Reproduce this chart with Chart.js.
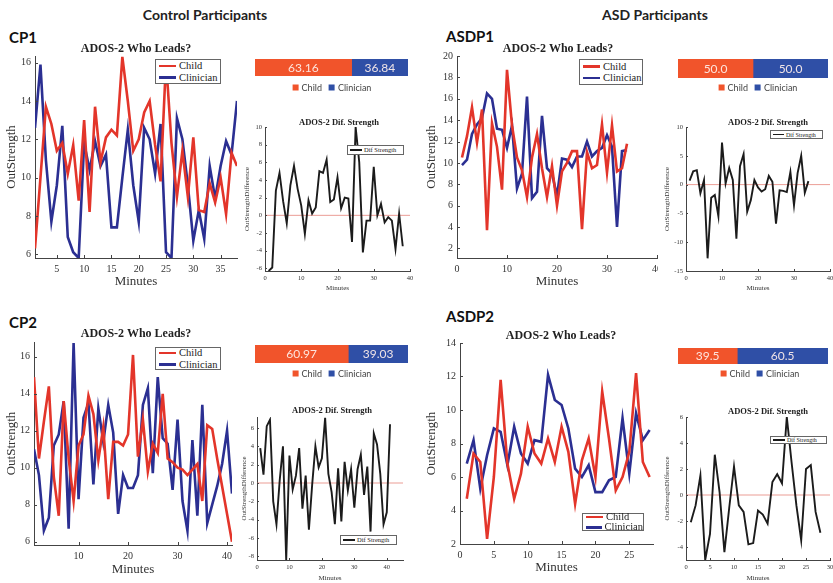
<!DOCTYPE html>
<html>
<head>
<meta charset="utf-8">
<script src="https://cdn.jsdelivr.net/npm/chart.js@4.4.1/dist/chart.umd.min.js"></script>
<style>
  html, body { margin: 0; padding: 0; background: #fff; }
  #page { position: relative; width: 833px; height: 583px; overflow: hidden; background: #fff; }
  #page canvas { position: absolute; }
  .hdr { position: absolute; font-family: Lato, 'Open Sans', sans-serif; font-weight: 700; font-size: 14px; color: #222; white-space: nowrap; transform: translate(-50%, -50%); }
  .pid { position: absolute; font-family: Lato, 'Open Sans', sans-serif; font-weight: 700; font-size: 15px; color: #111; white-space: nowrap; transform: translateY(-50%); }
  .ttl { position: absolute; font-family: 'Liberation Serif', 'DejaVu Serif', 'Times New Roman', serif; font-weight: 700; color: #222; white-space: nowrap; transform: translate(-50%, -50%); }
  .lgd { position: absolute; box-sizing: border-box; border: 1px solid #666; background: #fff; font-family: 'Liberation Serif', 'DejaVu Serif', serif; color: #222; display: flex; flex-direction: column; justify-content: center; }
  .lgd .row { display: flex; align-items: center; white-space: nowrap; }
  .lgd .smp { display: inline-block; }
  .blg { position: absolute; font-family: Lato, 'Open Sans', sans-serif; font-size: 9px; color: #444; white-space: nowrap; display: flex; align-items: center; transform: translate(-50%, -50%); }
  .blg .sq { display: inline-block; width: 6px; height: 6px; margin-right: 3px; }
</style>
</head>
<body>
<div id="page"></div>
<script>
// ---- OutStrength per minute ----
const cp1Child = [6.3, 10.0, 13.7, 12.8, 11.4, 11.8, 10.2, 11.7, 8.8, 13.0, 8.2, 13.7, 10.8, 12.1, 12.5, 12.2, 16.3, 14.0, 11.4, 12.0, 13.4, 14.0, 11.7, 9.8, 16.1, 11.8, 9.0, 11.4, 9.0, 12.1, 8.3, 8.2, 9.7, 8.7, 10.0, 8.1, 11.3, 10.6];
const cp1Clinician = [12.6, 15.9, 10.9, 7.7, 9.6, 12.7, 6.9, 6.1, 5.8, 11.8, 10.4, 11.9, 10.6, 11.2, 7.4, 7.4, 10.0, 12.5, 9.6, 7.7, 12.6, 12.0, 10.2, 12.8, 6.1, 5.8, 13.1, 12.0, 9.6, 6.7, 8.3, 6.8, 10.6, 8.9, 10.6, 11.9, 11.2, 14.0];
const cp1Diff = [-6.3, -5.9, 2.8, 4.8, 1.6, -0.9, 3.4, 5.6, 3.0, 1.1, -2.1, 1.7, 0.2, 0.9, 5.0, 4.8, 6.3, 1.5, 1.8, 4.3, 0.8, 2.0, 1.9, -3.0, 10.0, 6.0, -4.2, -0.6, -0.6, 5.5, 0.0, 1.3, -0.8, -0.2, -0.6, -3.8, 0.2, -3.5];
const cp1Share = [63.16, 36.84];

const cp2Child = [14.9, 10.5, 12.5, 14.4, 9.5, 7.4, 13.6, 10.5, 8.2, 11.2, 11.8, 13.9, 12.9, 10.4, 12.2, 8.3, 11.4, 11.4, 11.2, 11.8, 16.1, 10.6, 12.6, 9.8, 11.3, 10.8, 14.0, 10.5, 10.3, 10.0, 9.9, 9.6, 9.9, 10.2, 8.2, 12.3, 12.1, 10.5, 9.0, 7.5, 6.0];
const cp2Clinician = [11.0, 9.6, 6.6, 7.3, 11.2, 11.8, 13.6, 6.7, 16.75, 8.3, 12.7, 13.5, 9.1, 13.2, 11.4, 13.4, 11.9, 7.5, 9.6, 8.9, 8.9, 9.6, 13.4, 14.3, 9.7, 14.9, 11.6, 11.3, 8.8, 12.6, 8.2, 6.6, 11.5, 7.4, 13.4, 7.0, 8.0, 9.0, 10.2, 12.0, 8.6];
const cp2Diff = [3.8, 0.9, 6.2, 6.9, -2.0, -4.5, 0.3, 4.0, -8.4, 3.0, -0.7, 0.8, 3.8, -2.8, 0.8, -5.1, -0.2, 4.0, 1.7, 2.7, 7.1, 1.0, -1.0, -4.5, 1.6, -4.2, 2.3, -0.8, 1.5, -2.7, 1.5, 3.1, -1.3, 1.8, -5.3, 5.4, 4.2, 1.0, -4.5, -3.2, 6.4];
const cp2Share = [60.97, 39.03];

const asdp1Child = [10.5, 12.5, 15.2, 11.9, 15.0, 3.7, 13.7, 11.5, 7.5, 18.7, 13.5, 10.5, 9.3, 6.8, 10.5, 12.7, 9.5, 6.8, 9.7, 6.0, 9.2, 10.0, 11.1, 11.1, 3.8, 11.0, 9.5, 9.8, 13.6, 9.1, 13.5, 9.2, 9.5, 11.8];
const asdp1Clinician = [9.8, 10.3, 12.7, 13.6, 14.2, 16.5, 16.0, 13.2, 13.1, 11.4, 13.5, 7.6, 9.0, 16.2, 6.7, 7.3, 14.4, 9.5, 9.0, 6.9, 10.4, 10.3, 9.6, 10.6, 10.6, 12.0, 10.6, 11.1, 11.4, 12.6, 11.5, 4.0, 11.1, 11.2];
const asdp1Diff = [0.7, 2.3, 2.5, -1.5, 0.8, -12.8, -2.3, -1.8, -5.5, 7.3, 0.2, 2.9, 0.8, -9.4, 3.2, 5.3, -4.7, -2.7, 0.8, -0.5, -1.2, -0.8, 1.5, 0.5, -6.8, -1.0, -1.1, -1.3, 2.2, -3.6, 2.0, 5.0, -1.4, 0.6];
const asdp1Share = [50.0, 50.0];

const asdp2Child = [4.7, 7.4, 6.9, 2.3, 6.0, 11.8, 6.8, 4.7, 6.2, 9.0, 7.4, 6.8, 8.3, 6.9, 9.0, 7.5, 4.4, 7.0, 8.3, 6.0, 11.1, 8.3, 5.2, 6.0, 7.5, 12.2, 6.9, 6.0];
const asdp2Clinician = [6.8, 8.2, 5.3, 7.3, 8.9, 8.7, 6.7, 9.0, 7.4, 6.8, 8.2, 8.1, 12.1, 10.6, 10.3, 8.9, 6.5, 6.0, 6.7, 5.1, 5.1, 5.8, 6.0, 9.5, 6.2, 9.8, 8.2, 8.8];
const asdp2Diff = [-2.1, -0.8, 1.5, -5.0, -3.0, 3.1, 0.2, -4.4, -1.0, 2.2, -0.8, -1.3, -3.8, -3.7, -1.2, -1.5, -2.2, 1.0, 1.6, 0.9, 6.0, 2.5, -0.8, -3.5, 2.0, 2.3, -1.3, -2.9];
const asdp2Share = [39.5, 60.5];

// ---- tick values ----
const cp1MainXTicks = [5, 10, 15, 20, 25, 30, 35];
const cp1MainYTicks = [6, 8, 10, 12, 14, 16];
const cp2MainXTicks = [10, 20, 30, 40];
const cp2MainYTicks = [6, 8, 10, 12, 14, 16];
const asdp1MainXTicks = [0, 10, 20, 30, 40];
const asdp1MainYTicks = [2, 4, 6, 8, 10, 12, 14, 16, 18, 20];
const asdp2MainXTicks = [0, 5, 10, 15, 20, 25];
const asdp2MainYTicks = [2, 4, 6, 8, 10, 12, 14];
const diffXTicks40 = [0, 10, 20, 30, 40];
const diffXTicks30 = [0, 5, 10, 15, 20, 25, 30];
const cp1DiffYTicks = [-6, -4, -2, 0, 2, 4, 6, 8, 10];
const cp2DiffYTicks = [-8, -6, -4, -2, 0, 2, 4, 6];
const asdp1DiffYTicks = [-15, -10, -5, 0, 5, 10];
const asdp2DiffYTicks = [-4, -2, 0, 2, 4, 6];

const seriesNames = ['Child', 'Clinician'];

// ---- styling ----
const LINE_RED = '#E3352A';
const LINE_BLUE = '#2B2F92';
const BAR_RED = '#F1542B';
const BAR_BLUE = '#2F4FA6';
const AXIS = '#444';
const SERIF = "'Liberation Serif', 'DejaVu Serif', serif";

const page = document.getElementById('page');

function addCanvas(box) {
  const c = document.createElement('canvas');
  c.width = box[2]; c.height = box[3];
  c.style.left = box[0] + 'px'; c.style.top = box[1] + 'px';
  c.style.width = box[2] + 'px'; c.style.height = box[3] + 'px';
  page.appendChild(c);
  return c;
}

function addText(cls, text, x, y, extra) {
  const d = document.createElement('div');
  d.className = cls; d.textContent = text;
  d.style.left = x + 'px'; d.style.top = y + 'px';
  if (extra) Object.assign(d.style, extra);
  page.appendChild(d);
  return d;
}

// small inward tick marks on the left and bottom axes
const innerTicks = {
  id: 'innerTicks',
  afterDraw(chart, args, opts) {
    const { ctx, chartArea: a, scales } = chart;
    const len = opts.length || 3;
    ctx.save();
    ctx.strokeStyle = AXIS; ctx.lineWidth = 1;
    ctx.beginPath();
    scales.x.ticks.forEach(t => {
      const px = Math.round(scales.x.getPixelForValue(t.value)) + 0.5;
      ctx.moveTo(px, a.bottom); ctx.lineTo(px, a.bottom - len);
    });
    scales.y.ticks.forEach(t => {
      const py = Math.round(scales.y.getPixelForValue(t.value)) + 0.5;
      ctx.moveTo(a.left, py); ctx.lineTo(a.left + len, py);
    });
    ctx.stroke();
    ctx.restore();
  }
};

// faint red reference line at zero for the difference plots
const zeroLine = {
  id: 'zeroLine',
  beforeDatasetsDraw(chart, args, opts) {
    if (!opts.show) return;
    const { ctx, chartArea: a, scales } = chart;
    const y = scales.y.getPixelForValue(0);
    ctx.save();
    ctx.strokeStyle = 'rgba(226, 110, 100, 0.85)';
    ctx.lineWidth = 0.8;
    ctx.beginPath(); ctx.moveTo(a.left, y); ctx.lineTo(a.right, y); ctx.stroke();
    ctx.restore();
  }
};

function toPoints(values) {
  return values.map((v, i) => ({ x: i + 1, y: v }));
}

function lineChart(box, area, datasets, xs, ys, st) {
  const canvas = addCanvas(box);
  const [cx, cy, cw, ch] = box;
  const [l, t, r, b] = area;
  const yW = l - cx;
  const xH = cy + ch - b;
  const tickFont = { family: SERIF, size: st.tick };
  const titleFont = { family: SERIF, size: st.title };
  return new Chart(canvas, {
    type: 'line',
    data: { datasets },
    options: {
      responsive: false,
      animation: false,
      devicePixelRatio: 1,
      layout: { padding: { left: 0, top: t - cy, right: cx + cw - r, bottom: 0 } },
      elements: { point: { radius: 0 }, line: { tension: 0 } },
      plugins: {
        legend: { display: false },
        tooltip: { enabled: false },
        innerTicks: { length: st.tickLen },
        zeroLine: { show: !!st.zero }
      },
      scales: {
        x: {
          type: 'linear', min: xs.min, max: xs.max,
          afterBuildTicks: s => { s.ticks = xs.ticks.map(v => ({ value: v })); },
          afterFit: s => { s.height = xH; s.paddingLeft = 0; s.paddingRight = 0; },
          grid: { display: false, drawTicks: false },
          border: { display: true, color: AXIS, width: 1 },
          ticks: { font: tickFont, color: '#333', padding: st.xPad, maxRotation: 0, autoSkip: false },
          title: { display: true, text: 'Minutes', font: titleFont, color: '#333', padding: { top: 0, bottom: st.xTitlePad } }
        },
        y: {
          type: 'linear', min: ys.min, max: ys.max,
          afterBuildTicks: s => { s.ticks = ys.ticks.map(v => ({ value: v })); },
          afterFit: s => { s.width = yW; s.paddingTop = 0; s.paddingBottom = 0; },
          grid: { display: false, drawTicks: false },
          border: { display: true, color: AXIS, width: 1 },
          ticks: { font: tickFont, color: '#333', padding: st.yPad, autoSkip: false },
          title: { display: true, text: st.yTitle, font: titleFont, color: '#333', padding: { top: st.yTitlePad, bottom: 0 } }
        }
      }
    },
    plugins: [innerTicks, zeroLine]
  });
}

function mainChart(box, area, child, clinician, xs, ys) {
  return lineChart(box, area, [
    { label: seriesNames[0], data: toPoints(child), borderColor: LINE_RED, borderWidth: 2.6, fill: false },
    { label: seriesNames[1], data: toPoints(clinician), borderColor: LINE_BLUE, borderWidth: 2.6, fill: false }
  ], xs, ys, { tick: 10, title: 13, tickLen: 3, xPad: 5, xTitlePad: 3, yPad: 4, yTitlePad: 4, yTitle: 'OutStrength' });
}

function diffChart(box, area, diff, xs, ys) {
  return lineChart(box, area, [
    { label: 'Dif Strength', data: toPoints(diff), borderColor: '#1b1b1b', borderWidth: 1.9, fill: false }
  ], xs, ys, { tick: 6.5, title: 7, tickLen: 2, xPad: 3, xTitlePad: 1, yPad: 3, yTitlePad: 3, yTitle: 'OutStrengthDifference', zero: true });
}

// value labels centred inside each stacked segment
const barText = {
  id: 'barText',
  afterDatasetsDraw(chart) {
    const { ctx } = chart;
    ctx.save();
    ctx.fillStyle = 'rgba(255, 240, 235, 0.92)';
    ctx.font = "12px Lato, 'Open Sans', sans-serif";
    ctx.textAlign = 'center'; ctx.textBaseline = 'middle';
    chart.data.datasets.forEach((ds, i) => {
      const el = chart.getDatasetMeta(i).data[0];
      const v = ds.data[0];
      const txt = Number.isInteger(v) ? v.toFixed(1) : String(v);
      ctx.fillText(txt, (el.x + el.base) / 2, el.y + 0.5);
    });
    ctx.restore();
  }
};

function shareBar(box, share, legendPos) {
  const canvas = addCanvas(box);
  new Chart(canvas, {
    type: 'bar',
    data: {
      labels: [''],
      datasets: [
        { label: seriesNames[0], data: [share[0]], backgroundColor: BAR_RED },
        { label: seriesNames[1], data: [share[1]], backgroundColor: BAR_BLUE }
      ]
    },
    options: {
      indexAxis: 'y',
      responsive: false,
      animation: false,
      devicePixelRatio: 1,
      layout: { padding: 0 },
      datasets: { bar: { barPercentage: 1, categoryPercentage: 1, borderWidth: 0 } },
      scales: {
        x: { stacked: true, min: 0, max: 100, display: false },
        y: { stacked: true, display: false }
      },
      plugins: { legend: { display: false }, tooltip: { enabled: false } }
    },
    plugins: [barText]
  });
  const lg = document.createElement('div');
  lg.className = 'blg';
  lg.style.left = legendPos[0] + 'px'; lg.style.top = legendPos[1] + 'px';
  [[BAR_RED, seriesNames[0]], [BAR_BLUE, seriesNames[1]]].forEach(([c, n], i) => {
    const sq = document.createElement('span'); sq.className = 'sq'; sq.style.background = c;
    if (i > 0) sq.style.marginLeft = '7px';
    const tx = document.createElement('span'); tx.textContent = n;
    lg.appendChild(sq); lg.appendChild(tx);
  });
  page.appendChild(lg);
}

function lineLegend(box, items, fontPx, sampleW, lw, gap) {
  const d = document.createElement('div');
  d.className = 'lgd';
  Object.assign(d.style, { left: box[0] + 'px', top: box[1] + 'px', width: box[2] + 'px', height: box[3] + 'px', fontSize: fontPx + 'px' });
  items.forEach(([c, n]) => {
    const row = document.createElement('div'); row.className = 'row';
    row.style.lineHeight = (fontPx + gap) + 'px';
    const s = document.createElement('span'); s.className = 'smp';
    Object.assign(s.style, { width: sampleW + 'px', height: lw + 'px', background: c, marginLeft: Math.round(sampleW * 0.2) + 'px', marginRight: Math.round(sampleW * 0.15) + 'px' });
    const t = document.createElement('span'); t.textContent = n;
    row.appendChild(s); row.appendChild(t);
    d.appendChild(row);
  });
  page.appendChild(d);
}

// ---- headings ----
addText('hdr', 'Control Participants', 205, 14);
addText('hdr', 'ASD Participants', 655, 14);
addText('pid', 'CP1', 9, 37);
addText('pid', 'ASDP1', 446, 36);
addText('pid', 'CP2', 9, 322);
addText('pid', 'ASDP2', 446, 316);

// ---- CP1 ----
mainChart([0, 50, 240, 242], [35, 56, 237, 258], cp1Child, cp1Clinician,
  { min: 1, max: 38, ticks: cp1MainXTicks }, { min: 5.8, max: 16.35, ticks: cp1MainYTicks });
addText('ttl', 'ADOS-2 Who Leads?', 136, 48, { fontSize: '12px' });
lineLegend([155, 59, 66, 25], [[LINE_RED, seriesNames[0]], [LINE_BLUE, seriesNames[1]]], 10.5, 17, 2.5, 1);
shareBar([255, 59, 153, 17], cp1Share, [332, 87]);
diffChart([240, 120, 175, 173], [265, 127, 410, 271], cp1Diff,
  { min: 0, max: 40, ticks: diffXTicks40 }, { min: -6.3, max: 10, ticks: cp1DiffYTicks });
addText('ttl', 'ADOS-2 Dif. Strength', 339, 122, { fontSize: '8.5px' });
lineLegend([347, 145, 57, 10], [['#1b1b1b', 'Dif Strength']], 6.5, 12, 1.6, 0);

// ---- ASDP1 ----
mainChart([420, 50, 238, 242], [457, 56, 657, 258], asdp1Child, asdp1Clinician,
  { min: 0, max: 40, ticks: asdp1MainXTicks }, { min: 1.1, max: 20, ticks: asdp1MainYTicks });
addText('ttl', 'ADOS-2 Who Leads?', 558, 48, { fontSize: '12px' });
lineLegend([579, 59, 64, 26], [[LINE_RED, seriesNames[0]], [LINE_BLUE, seriesNames[1]]], 10.5, 17, 2.5, 1);
shareBar([678, 59, 150, 19], asdp1Share, [758, 87]);
diffChart([660, 120, 173, 173], [686, 127, 830, 271], asdp1Diff,
  { min: 0, max: 40, ticks: diffXTicks40 }, { min: -15, max: 10, ticks: asdp1DiffYTicks });
addText('ttl', 'ADOS-2 Dif. Strength', 768, 122, { fontSize: '8.5px' });
lineLegend([770, 130, 53, 9], [['#1b1b1b', 'Dif Strength']], 6, 11, 1.6, 0);

// ---- CP2 ----
mainChart([0, 336, 233, 244], [34, 342, 232, 545], cp2Child, cp2Clinician,
  { min: 1, max: 41, ticks: cp2MainXTicks }, { min: 5.82, max: 16.8, ticks: cp2MainYTicks });
addText('ttl', 'ADOS-2 Who Leads?', 136, 333, { fontSize: '12px' });
lineLegend([155, 347, 66, 23], [[LINE_RED, seriesNames[0]], [LINE_BLUE, seriesNames[1]]], 10.5, 17, 2.5, 1);
shareBar([255, 345, 153, 18], cp2Share, [332, 373]);
diffChart([237, 410, 170, 173], [257, 417, 403, 560], cp2Diff,
  { min: 0, max: 45, ticks: diffXTicks40 }, { min: -8.4, max: 7.2, ticks: cp2DiffYTicks });
addText('ttl', 'ADOS-2 Dif. Strength', 332, 410, { fontSize: '8.5px' });
lineLegend([340, 535, 57, 10], [['#1b1b1b', 'Dif Strength']], 6.5, 12, 1.6, 0);

// ---- ASDP2 ----
mainChart([420, 336, 240, 242], [460, 343, 653, 544], asdp2Child, asdp2Clinician,
  { min: 0, max: 28.5, ticks: asdp2MainXTicks }, { min: 2, max: 14, ticks: asdp2MainYTicks });
addText('ttl', 'ADOS-2 Who Leads?', 561, 335, { fontSize: '12px' });
lineLegend([582, 513, 62, 18], [[LINE_RED, seriesNames[0]], [LINE_BLUE, seriesNames[1]]], 10.5, 17, 2.5, 0);
shareBar([678, 348, 150, 16], asdp2Share, [760, 373]);
diffChart([660, 410, 173, 173], [686, 417, 830, 560], asdp2Diff,
  { min: 0, max: 30, ticks: diffXTicks30 }, { min: -5, max: 6, ticks: asdp2DiffYTicks });
addText('ttl', 'ADOS-2 Dif. Strength', 768, 411, { fontSize: '8.5px' });
lineLegend([770, 436, 57, 8], [['#1b1b1b', 'Dif Strength']], 6, 12, 1.6, 0);
</script>
</body>
</html>
